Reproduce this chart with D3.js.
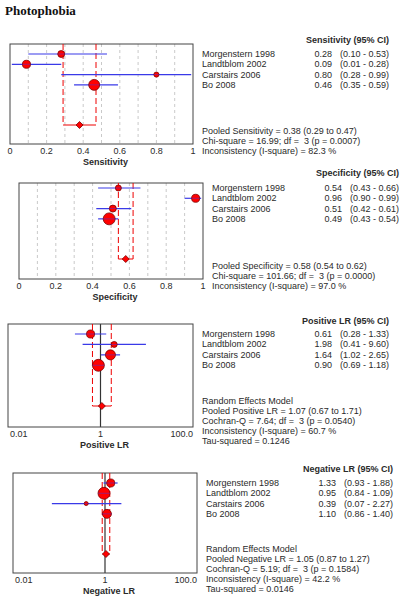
<!DOCTYPE html>
<html><head><meta charset="utf-8">
<script src="https://cdn.jsdelivr.net/npm/d3@7"></script>
<style>
body{margin:0;background:#fff;}
text{font-family:"Liberation Sans",Arial,sans-serif;font-size:9px;fill:#2a2a2a;white-space:pre;}
</style></head><body>
<svg id="c" width="403" height="600"></svg>
<script>
const title = "Photophobia";
const studies = ["Morgenstern 1998","Landtblom 2002","Carstairs 2006","Bo 2008"];

const sensEst = [0.28,0.09,0.80,0.46], sensLo = [0.10,0.01,0.28,0.35], sensHi = [0.53,0.28,0.99,0.59];
const sensWeight = [15,20,8,37];
const sensPooled = [0.38,0.29,0.47];
const sensStats = ["Pooled Sensitivity = 0.38 (0.29 to 0.47)","Chi-square = 16.99; df =  3 (p = 0.0007)","Inconsistency (I-square) = 82.3 %"];

const specEst = [0.54,0.96,0.51,0.49], specLo = [0.43,0.90,0.42,0.43], specHi = [0.66,0.99,0.61,0.54];
const specWeight = [11,20,15,44];
const specPooled = [0.58,0.54,0.62];
const specStats = ["Pooled Specificity = 0.58 (0.54 to 0.62)","Chi-square = 101.66; df =  3 (p = 0.0000)","Inconsistency (I-square) = 97.0 %"];

const plrEst = [0.61,1.98,1.64,0.90], plrLo = [0.28,0.41,1.02,0.69], plrHi = [1.33,9.60,2.65,1.18];
const plrWeight = [20,11,31,44];
const plrPooled = [1.07,0.67,1.71];
const plrStats = ["Random Effects Model","Pooled Positive LR = 1.07 (0.67 to 1.71)","Cochran-Q = 7.64; df =  3 (p = 0.0540)","Inconsistency (I-square) = 60.7 %","Tau-squared = 0.1246"];

const nlrEst = [1.33,0.95,0.39,1.10], nlrLo = [0.93,0.84,0.07,0.86], nlrHi = [1.88,1.09,2.27,1.40];
const nlrWeight = [20,44,5,25];
const nlrPooled = [1.05,0.87,1.27];
const nlrStats = ["Random Effects Model","Pooled Negative LR = 1.05 (0.87 to 1.27)","Cochran-Q = 5.19; df =  3 (p = 0.1584)","Inconsistency (I-square) = 42.2 %","Tau-squared = 0.0146"];

const propTicks = [0,0.2,0.4,0.6,0.8,1];
const propTickLabels = ["0","0.2","0.4","0.6","0.8","1"];
const lrTicks = [0.01,1,100];
const lrTickLabels = ["0.01","1","100.0"];

const panels = [
  {est:sensEst,lo:sensLo,hi:sensHi,w:sensWeight,pooled:sensPooled,stats:sensStats,header:"Sensitivity (95% CI)",axis:"Sensitivity",log:false,
   box:[10,193,44,144],rowY:54,poolY:125,headY:40,statY:130.7},
  {est:specEst,lo:specLo,hi:specHi,w:specWeight,pooled:specPooled,stats:specStats,header:"Specificity (95% CI)",axis:"Specificity",log:false,
   box:[19,203,183,279],rowY:188,poolY:259,headY:173,statY:265.7},
  {est:plrEst,lo:plrLo,hi:plrHi,w:plrWeight,pooled:plrPooled,stats:plrStats,header:"Positive LR (95% CI)",axis:"Positive LR",log:true,
   box:[8,193,324,427],rowY:334,poolY:406,headY:321,statY:401},
  {est:nlrEst,lo:nlrLo,hi:nlrHi,w:nlrWeight,pooled:nlrPooled,stats:nlrStats,header:"Negative LR (95% CI)",axis:"Negative LR",log:true,
   box:[13,197,473,573],rowY:483,poolY:554,headY:469,statY:549}
];

const svg = d3.select("#c");
svg.append("text").attr("x",5).attr("y",15).text(title)
  .style("font-family","'Liberation Serif','DejaVu Serif',serif").style("font-weight","bold").style("font-size","13px").style("fill","#111");

const fmt2 = d3.format(".2f");
const rScale = d3.scaleSqrt().domain([0,100]).range([0,9]);

panels.forEach(p => {
  const [x0,x1,y0,y1] = p.box;
  const g = svg.append("g");
  const x = p.log ? d3.scaleLog().domain([0.01,100]).range([x0,x1]) : d3.scaleLinear().domain([0,1]).range([x0,x1]);
  const y = d3.scaleLinear().domain([0,6.9]).range([p.rowY,p.poolY]);
  const clampX = v => Math.max(x0, Math.min(x1, x(v)));

  if(!p.log){
    g.selectAll(".grid").data(d3.range(1,10).map(i=>i/10)).join("line")
      .attr("x1",d=>x(d)).attr("x2",d=>x(d)).attr("y1",y0).attr("y2",y1)
      .attr("stroke","#bbb").attr("stroke-width",0.8).attr("stroke-dasharray","3,3");
  } else {
    g.append("line").attr("x1",x(1)).attr("x2",x(1)).attr("y1",y0).attr("y2",y1)
      .attr("stroke","#333").attr("stroke-width",1.2);
  }
  g.append("rect").attr("x",x0).attr("y",y0).attr("width",x1-x0).attr("height",y1-y0)
    .attr("fill","none").attr("stroke","#444").attr("stroke-width",1);

  [p.pooled[1],p.pooled[2]].forEach(v=>{
    g.append("line").attr("x1",x(v)).attr("x2",x(v)).attr("y1",y0).attr("y2",y(6.9))
      .attr("stroke","#e00").attr("stroke-width",1).attr("stroke-dasharray","6,3");
  });
  g.append("line").attr("x1",x(p.pooled[1])).attr("x2",x(p.pooled[2])).attr("y1",y(6.9)).attr("y2",y(6.9))
    .attr("stroke","#e00").attr("stroke-width",1);

  g.selectAll(".ci").data(p.est).join("line")
    .attr("x1",(d,i)=>clampX(p.lo[i])).attr("x2",(d,i)=>clampX(p.hi[i]))
    .attr("y1",(d,i)=>y(i)).attr("y2",(d,i)=>y(i))
    .attr("stroke","#3a3ae8").attr("stroke-width",1.2);
  g.selectAll(".pt").data(p.est).join("circle")
    .attr("cx",d=>x(d)).attr("cy",(d,i)=>y(i)).attr("r",(d,i)=>rScale(p.w[i]))
    .attr("fill","#f00").attr("stroke","#7a0000").attr("stroke-width",0.8);
  g.selectAll(".pt2").data(p.est).join("line")
    .attr("x1",(d,i)=>Math.max(x0,x(d)-rScale(p.w[i]))).attr("x2",(d,i)=>x(d)+rScale(p.w[i]))
    .attr("y1",(d,i)=>y(i)).attr("y2",(d,i)=>y(i))
    .attr("stroke","#3a3ae8").attr("stroke-width",0.8).attr("opacity",0.6);
  const px = x(p.pooled[0]), py = y(6.9), dw=3.5, dh=3.5;
  g.append("path").attr("d",`M${px-dw},${py}L${px},${py-dh}L${px+dw},${py}L${px},${py+dh}Z`)
    .attr("fill","#f00").attr("stroke","#7a0000").attr("stroke-width",0.8);

  const ticks = p.log ? lrTicks : propTicks;
  const labels = p.log ? lrTickLabels : propTickLabels;
  g.selectAll(".tk").data(ticks).join("text")
    .attr("x",d=>x(d)).attr("y",y1+9.5)
    .attr("text-anchor",(d,i)=> p.log ? (i===0?"start":(i===ticks.length-1?"end":"middle")) : "middle")
    .attr("dx",(d,i)=> p.log && i===0 ? 2 : 0)
    .text((d,i)=>labels[i]);
  g.append("text").attr("x",(x0+x1)/2+4).attr("y",y1+20.5).attr("text-anchor","middle")
    .style("font-weight","bold").text(p.axis);

  const right = x1+196;
  g.append("text").attr("x",right).attr("y",p.headY+3).attr("text-anchor","end")
    .style("font-weight","bold").text(p.header);
  g.selectAll(".nm").data(studies).join("text")
    .attr("x",x1+9).attr("y",(d,i)=>y(i)+3).text(d=>d);
  g.selectAll(".vl").data(p.est).join("text")
    .attr("x",x1+139).attr("y",(d,i)=>y(i)+3).attr("text-anchor","end").text(d=>fmt2(d));
  g.selectAll(".civ").data(p.est).join("text")
    .attr("x",right).attr("y",(d,i)=>y(i)+3).attr("text-anchor","end")
    .text((d,i)=>`(${fmt2(p.lo[i])} - ${fmt2(p.hi[i])})`);
  g.selectAll(".st").data(p.stats).join("text")
    .attr("x",x1+9).attr("y",(d,i)=>p.statY+3+i*10.1).text(d=>d);
});
</script></body></html>
